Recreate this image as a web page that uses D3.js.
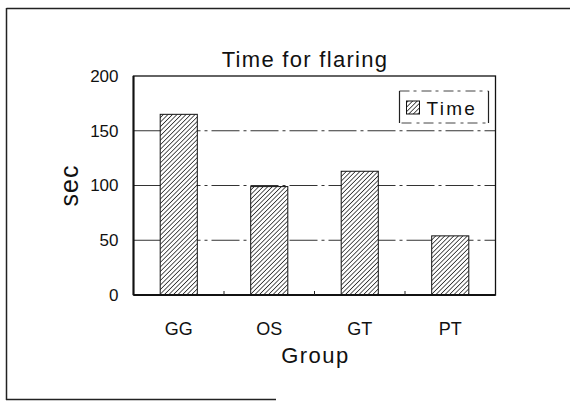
<!DOCTYPE html>
<html>
<head>
<meta charset="utf-8">
<script src="https://cdn.jsdelivr.net/npm/d3@7"></script>
<style>
  body { margin: 0; background: #fff; }
  svg { font-family: "Liberation Sans", Arial, sans-serif; }
</style>
</head>
<body>
<div id="chart"></div>
<script>
var groups = ["GG", "OS", "GT", "PT"];
var times = [165, 99, 113, 54];
var yTicks = [0, 50, 100, 150, 200];
var gridValues = [50, 100, 150];
var seriesName = "Time";

var W = 570, H = 405;
var margin = {top: 76, right: 74.5, bottom: 110, left: 133.5};
var width = W - margin.left - margin.right,
    height = H - margin.top - margin.bottom;

var svg = d3.select("#chart").append("svg")
    .attr("width", W)
    .attr("height", H);

// hatch pattern
var defs = svg.append("defs");
var pat = defs.append("pattern")
    .attr("id", "hatch")
    .attr("patternUnits", "userSpaceOnUse")
    .attr("width", 3.2)
    .attr("height", 3.2)
    .attr("patternTransform", "rotate(45)");
pat.append("rect").attr("width", 3.2).attr("height", 3.2).attr("fill", "#fff");
pat.append("line")
    .attr("x1", 0).attr("y1", 0).attr("x2", 0).attr("y2", 3.2)
    .attr("stroke", "#111").attr("stroke-width", 1.4);

// outer frame (scanned page: left, top and part of bottom)
svg.append("line")
    .attr("x1", 6.5).attr("x2", 570).attr("y1", 8.5).attr("y2", 8.5)
    .attr("stroke", "#222").attr("stroke-width", 1.3);
svg.append("line")
    .attr("x1", 6.5).attr("x2", 6.5).attr("y1", 8).attr("y2", 400)
    .attr("stroke", "#222").attr("stroke-width", 1.5);
svg.append("line")
    .attr("x1", 6).attr("x2", 276).attr("y1", 399.5).attr("y2", 399.5)
    .attr("stroke", "#222").attr("stroke-width", 1.3);

var g = svg.append("g")
    .attr("transform", "translate(" + margin.left + "," + margin.top + ")");

var x = d3.scaleBand()
    .domain(groups)
    .range([0, width])
    .paddingInner(0.59)
    .paddingOuter(0.295);

var y = d3.scaleLinear()
    .domain([0, 200])
    .range([height, 0]);

// gridlines
g.selectAll(".grid")
  .data(gridValues)
  .enter().append("line")
    .attr("x1", 0).attr("x2", width)
    .attr("y1", function(d) { return y(d); })
    .attr("y2", function(d) { return y(d); })
    .attr("stroke", "#333")
    .attr("stroke-width", 1)
    .attr("stroke-dasharray", "28,4,3,4");

// bars
g.selectAll(".bar")
  .data(times)
  .enter().append("rect")
    .attr("x", function(d, i) { return x(groups[i]); })
    .attr("y", function(d) { return y(d); })
    .attr("width", x.bandwidth())
    .attr("height", function(d) { return height - y(d); })
    .attr("fill", "url(#hatch)")
    .attr("stroke", "#111")
    .attr("stroke-width", 1);

// plot border
g.append("rect")
    .attr("x", 0).attr("y", 0)
    .attr("width", width).attr("height", height)
    .attr("fill", "none")
    .attr("stroke", "#111")
    .attr("stroke-width", 1.3);
g.append("line")
    .attr("x1", 0).attr("x2", width)
    .attr("y1", height).attr("y2", height)
    .attr("stroke", "#111").attr("stroke-width", 2);
g.append("line")
    .attr("x1", 0).attr("x2", 0)
    .attr("y1", 0).attr("y2", height)
    .attr("stroke", "#111").attr("stroke-width", 2);

// inner ticks between categories
g.selectAll(".xtick")
  .data(groups.slice(1))
  .enter().append("line")
    .attr("x1", function(d) { return x(d) - x.step() * x.paddingInner() / 2 - x.bandwidth() * 0 ; })
    .attr("x2", function(d) { return x(d) - x.step() * x.paddingInner() / 2; })
    .attr("y1", height)
    .attr("y2", height - 4)
    .attr("stroke", "#222")
    .attr("stroke-width", 1);

// y axis labels
var yAxis = g.append("g")
    .call(d3.axisLeft(y).tickValues(yTicks).tickSize(0).tickPadding(15));
yAxis.select(".domain").remove();
yAxis.selectAll("text")
    .style("font-size", "17px")
    .style("font-family", "Liberation Sans, Arial, sans-serif")
    .attr("fill", "#111");

// x axis labels
var xAxis = g.append("g")
    .attr("transform", "translate(0," + height + ")")
    .call(d3.axisBottom(x).tickSize(0).tickPadding(0));
xAxis.select(".domain").remove();
xAxis.selectAll("text")
    .attr("dy", null)
    .attr("y", 40)
    .style("font-size", "18px")
    .style("font-family", "Liberation Sans, Arial, sans-serif")
    .attr("fill", "#111");

// title
svg.append("text")
    .attr("x", 305)
    .attr("y", 67)
    .attr("text-anchor", "middle")
    .style("font-size", "22px")
    .style("letter-spacing", "1.3px")
    .attr("fill", "#111")
    .text("Time for flaring");

// axis titles
svg.append("text")
    .attr("x", margin.left + width / 2 + 1)
    .attr("y", 363)
    .attr("text-anchor", "middle")
    .style("font-size", "22px")
    .style("letter-spacing", "1.5px")
    .attr("fill", "#111")
    .text("Group");

svg.append("text")
    .attr("transform", "translate(78," + (margin.top + height / 2) + ") rotate(-90)")
    .attr("text-anchor", "middle")
    .style("font-size", "25px")
    .style("letter-spacing", "1px")
    .attr("fill", "#111")
    .text("sec");

// legend
var legend = g.append("g")
    .attr("transform", "translate(" + (width - 96) + ",15)");
legend.append("rect")
    .attr("x", 0).attr("y", 0)
    .attr("width", 89).attr("height", 32)
    .attr("fill", "#fff")
    .attr("stroke", "#444")
    .attr("stroke-width", 1)
    .attr("stroke-dasharray", "10,4,3,5");
legend.append("line")
    .attr("x1", 0).attr("x2", 0).attr("y1", 0).attr("y2", 32)
    .attr("stroke", "#222").attr("stroke-width", 1.2);
legend.append("line")
    .attr("x1", 89).attr("x2", 89).attr("y1", 0).attr("y2", 32)
    .attr("stroke", "#222").attr("stroke-width", 1.2);
legend.append("rect")
    .attr("x", 7).attr("y", 10)
    .attr("width", 13).attr("height", 13)
    .attr("fill", "url(#hatch)")
    .attr("stroke", "#111");
legend.append("text")
    .attr("x", 27).attr("y", 24)
    .style("font-size", "19px")
    .style("letter-spacing", "2.3px")
    .attr("fill", "#111")
    .text(seriesName);
</script>
</body>
</html>
